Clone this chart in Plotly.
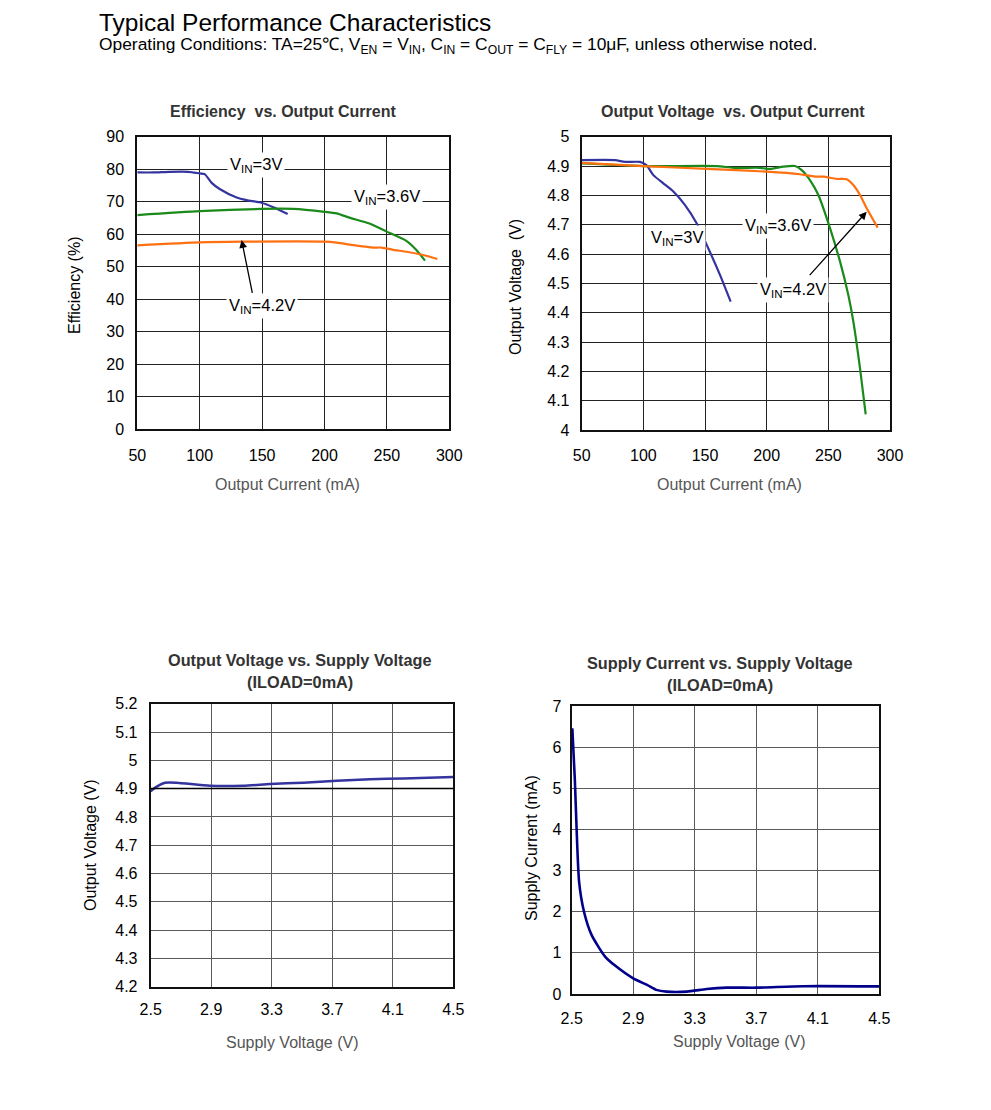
import plotly.graph_objects as go

# page offset compensation (body margin): figure drawn at (8,8)
OFF = 8
W, H = 991 - 2 * OFF, 1110 - 2 * OFF

# ---------------- data ----------------
# Efficiency vs Output Current
eff_x_3v = [50, 63, 76, 91, 100, 104, 109.6, 116, 129.6, 137.6, 149.6, 159, 170.5]
eff_y_3v = [79, 79, 79.2, 79.2, 78.7, 78.5, 75.8, 73.9, 71.3, 70.5, 69.7, 68.3, 66.2]
eff_x_36v = [50, 100, 149.6, 175, 200, 209.7, 220, 236, 249.8, 265.8, 273.8, 280.5]
eff_y_36v = [65.9, 67.1, 67.8, 67.8, 66.9, 66.4, 65.1, 63.3, 60.8, 57.9, 55.1, 51.9]
eff_x_42v = [50, 100, 133.6, 200, 209.7, 225.7, 239, 245.8, 255, 265.8, 279, 290.4]
eff_y_42v = [56.6, 57.5, 57.7, 57.7, 57.4, 56.5, 55.9, 55.9, 55.2, 54.6, 53.6, 52.4]

# Output Voltage vs Output Current
vo_x_3v = [50, 77, 85.1, 97.3, 102.7, 108.1, 116.2, 124.3, 133.8, 143.2, 152.7, 162.2, 170.8]
vo_y_3v = [4.920, 4.920, 4.914, 4.914, 4.902, 4.869, 4.841, 4.813, 4.767, 4.705, 4.619, 4.528, 4.4375]
vo_x_36v = [50, 100, 159.5, 173, 194.6, 202.7, 213.5, 223, 228.4, 235.1, 241.9, 251.4, 259.5, 266.2, 270.3, 275.7, 280.3]
vo_y_36v = [4.909, 4.900, 4.900, 4.894, 4.894, 4.890, 4.898, 4.900, 4.886, 4.852, 4.801, 4.6875, 4.574, 4.460, 4.369, 4.210, 4.053]
vo_x_42v = [50, 100, 151.4, 200, 227, 239.2, 246, 256.8, 264.9, 270.3, 275.7, 281.1, 290]
vo_y_42v = [4.911, 4.900, 4.890, 4.881, 4.872, 4.864, 4.864, 4.856, 4.855, 4.835, 4.801, 4.756, 4.690]

# Output Voltage vs Supply Voltage
vs_x = [2.5, 2.54, 2.595, 2.672, 2.892, 3.112, 3.289, 3.509, 3.73, 3.949, 4.17, 4.5]
vs_y = [4.891, 4.907, 4.921, 4.921, 4.910, 4.910, 4.916, 4.921, 4.928, 4.933, 4.936, 4.941]

# Supply Current vs Supply Voltage
is_x = [2.504, 2.52, 2.548, 2.58, 2.63, 2.717, 2.782, 2.9, 2.99, 3.05, 3.117, 3.248, 3.377, 3.508, 3.70, 4.006, 4.5]
is_y = [6.46, 5.24, 2.73, 2.0, 1.43, 0.91, 0.69, 0.38, 0.22, 0.10, 0.057, 0.057, 0.12, 0.154, 0.154, 0.19, 0.186]

xticks_top = [50, 100, 150, 200, 250, 300]
eff_ticks = [0, 10, 20, 30, 40, 50, 60, 70, 80, 90]
vo_ticks = [4, 4.1, 4.2, 4.3, 4.4, 4.5, 4.6, 4.7, 4.8, 4.9, 5]
vo_tick_text = ["4", "4.1", "4.2", "4.3", "4.4", "4.5", "4.6", "4.7", "4.8", "4.9", "5"]
xticks_bot = [2.5, 2.9, 3.3, 3.7, 4.1, 4.5]
vs_ticks = [4.2, 4.3, 4.4, 4.5, 4.6, 4.7, 4.8, 4.9, 5.0, 5.1, 5.2]
vs_tick_text = ["4.2", "4.3", "4.4", "4.5", "4.6", "4.7", "4.8", "4.9", "5", "5.1", "5.2"]
is_ticks = [0, 1, 2, 3, 4, 5, 6, 7]
vs_ref_level = 4.9

BLUE = "#34349e"
GREEN = "#1a8a1a"
ORANGE = "#ff7010"
NAVY = "#00008b"
FONT = "Liberation Sans, Arial, sans-serif"

def px_x(p):
    return (p - OFF) / W

def px_y(p):
    return 1 - (p - OFF) / H

fig = go.Figure()

def add_line(x, y, color, xa, ya, width=2.2):
    fig.add_trace(go.Scatter(x=x, y=y, mode="lines", line=dict(color=color, width=width, shape="spline", smoothing=0.6),
                             xaxis=xa, yaxis=ya, showlegend=False, hoverinfo="skip"))

add_line(eff_x_3v, eff_y_3v, BLUE, "x", "y")
add_line(eff_x_36v, eff_y_36v, GREEN, "x", "y")
add_line(eff_x_42v, eff_y_42v, ORANGE, "x", "y")
add_line(vo_x_3v, vo_y_3v, BLUE, "x2", "y2")
add_line(vo_x_36v, vo_y_36v, GREEN, "x2", "y2")
add_line(vo_x_42v, vo_y_42v, ORANGE, "x2", "y2")
add_line(vs_x, vs_y, BLUE, "x3", "y3", 2.5)
add_line(is_x, is_y, NAVY, "x4", "y4", 2.6)

tickfont = dict(family=FONT, size=16, color="#000000")

def axis(domain, rng, tickvals, ticktext, anchor, gridcolor, standoff=14):
    d = dict(domain=domain, range=rng, tickvals=tickvals, anchor=anchor,
             showgrid=True, gridcolor=gridcolor, gridwidth=1,
             showline=True, linecolor="#111111", linewidth=2, mirror=True,
             ticks="", zeroline=False, tickfont=tickfont, fixedrange=True,
             automargin=False, ticklabelstandoff=standoff)
    if ticktext is not None:
        d["ticktext"] = ticktext
    return d

layout = dict(width=W, height=H, margin=dict(l=0, r=0, t=0, b=0, pad=0, autoexpand=False),
              paper_bgcolor="white", plot_bgcolor="white", showlegend=False,
              font=dict(family=FONT))

# top-left
layout["xaxis"] = axis([px_x(137.3), px_x(449.3)], [50, 300], xticks_top, None, "y", "#222222", standoff=10)
layout["yaxis"] = axis([px_y(429.3), px_y(136.7)], [0, 90], eff_ticks, None, "x", "#222222", standoff=8)
# top-right
layout["xaxis2"] = axis([px_x(581.7), px_x(890)], [50, 300], xticks_top, None, "y2", "#222222", standoff=10)
layout["yaxis2"] = axis([px_y(430), px_y(136.7)], [4, 5], vo_ticks, vo_tick_text, "x2", "#222222", standoff=7)
# bottom-left
layout["xaxis3"] = axis([px_x(150.7), px_x(453.3)], [2.5, 4.5], xticks_bot, None, "y3", "#5a5a5a", standoff=7)
layout["yaxis3"] = axis([px_y(986.7), px_y(703.7)], [4.2, 5.2], vs_ticks, vs_tick_text, "x3", "#5a5a5a", standoff=8)
# bottom-right
layout["xaxis4"] = axis([px_x(571.7), px_x(879.3)], [2.5, 4.5], xticks_bot, None, "y4", "#5a5a5a", standoff=9)
layout["yaxis4"] = axis([px_y(994), px_y(706)], [0, 7], is_ticks, None, "x4", "#5a5a5a", standoff=5)

fig.update_layout(**layout)

# black reference gridline in bottom-left
fig.add_shape(type="line", xref="x3 domain", yref="y3", x0=0, x1=1, y0=vs_ref_level, y1=vs_ref_level,
              line=dict(color="#000000", width=1.5), layer="above")

ann = []

def paper_text(text, x, y, size, color="#000000", bold=False, xanchor="center", angle=0, yanchor="middle"):
    t = f"<b>{text}</b>" if bold else text
    ann.append(dict(text=t, x=px_x(x), y=px_y(y), xref="paper", yref="paper", showarrow=False,
                    xanchor=xanchor, yanchor=yanchor, textangle=angle, borderpad=0,
                    font=dict(family=FONT, size=size, color=color)))

# header
paper_text("Typical Performance Characteristics", 98, OFF, 24.5, xanchor="left", yanchor="top")
paper_text("Operating Conditions: TA=25℃, V<sub>EN</sub> = V<sub>IN</sub>, C<sub>IN</sub> = C<sub>OUT</sub> = C<sub>FLY</sub> = 10μF, unless otherwise noted.",
           98, 46, 17.4, xanchor="left")

# chart titles
paper_text("Efficiency  vs. Output Current", 283, 111, 16, "#333333", bold=True)
paper_text("Output Voltage  vs. Output Current", 733, 111, 16, "#333333", bold=True)
paper_text("Output Voltage vs. Supply Voltage", 300, 660, 16.3, "#333333", bold=True)
paper_text("(ILOAD=0mA)", 300, 682, 16.3, "#333333", bold=True)
paper_text("Supply Current vs. Supply Voltage", 720, 663, 16.3, "#333333", bold=True)
paper_text("(ILOAD=0mA)", 720, 685, 16.3, "#333333", bold=True)

# axis titles
paper_text("Output Current (mA)", 287, 484, 16, "#555555")
paper_text("Output Current (mA)", 729, 484, 16, "#555555")
paper_text("Supply Voltage (V)", 292, 1042, 16, "#555555")
paper_text("Supply Voltage (V)", 739, 1041, 16, "#555555")
paper_text("Efficiency (%)", 75, 285, 16, "#000000", angle=-90)
paper_text("Output Voltage  (V)", 516, 287, 16, "#000000", angle=-90)
paper_text("Output Voltage (V)", 90, 845, 16, "#000000", angle=-90)
paper_text("Supply Current (mA)", 531, 848, 16, "#000000", angle=-90)

def label(text, x, y, xr, yr):
    ann.append(dict(text=text, x=x, y=y, xref=xr, yref=yr, showarrow=False,
                    bgcolor="white", borderpad=2,
                    font=dict(family=FONT, size=16.5, color="#000000")))

def arrow(x0, y0, x1, y1, xr, yr):
    ann.append(dict(text="", x=x1, y=y1, ax=x0, ay=y0, xref=xr, yref=yr, axref=xr, ayref=yr,
                    showarrow=True, arrowhead=2, arrowsize=1.2, arrowwidth=1.3, arrowcolor="#000000"))

label("V<sub>IN</sub>=3V", 145, 81.4, "x", "y")
label("V<sub>IN</sub>=3.6V", 250, 71.6, "x", "y")
label("V<sub>IN</sub>=4.2V", 150, 38.0, "x", "y")
arrow(142.4, 41.5, 133.6, 58.2, "x", "y")

label("V<sub>IN</sub>=3V", 127, 4.655, "x2", "y2")
label("V<sub>IN</sub>=3.6V", 209.5, 4.697, "x2", "y2")
label("V<sub>IN</sub>=4.2V", 221.6, 4.478, "x2", "y2")
arrow(233.8, 4.523, 281.1, 4.744, "x2", "y2")

fig.update_layout(annotations=ann)

fig.write_html("out.html")
